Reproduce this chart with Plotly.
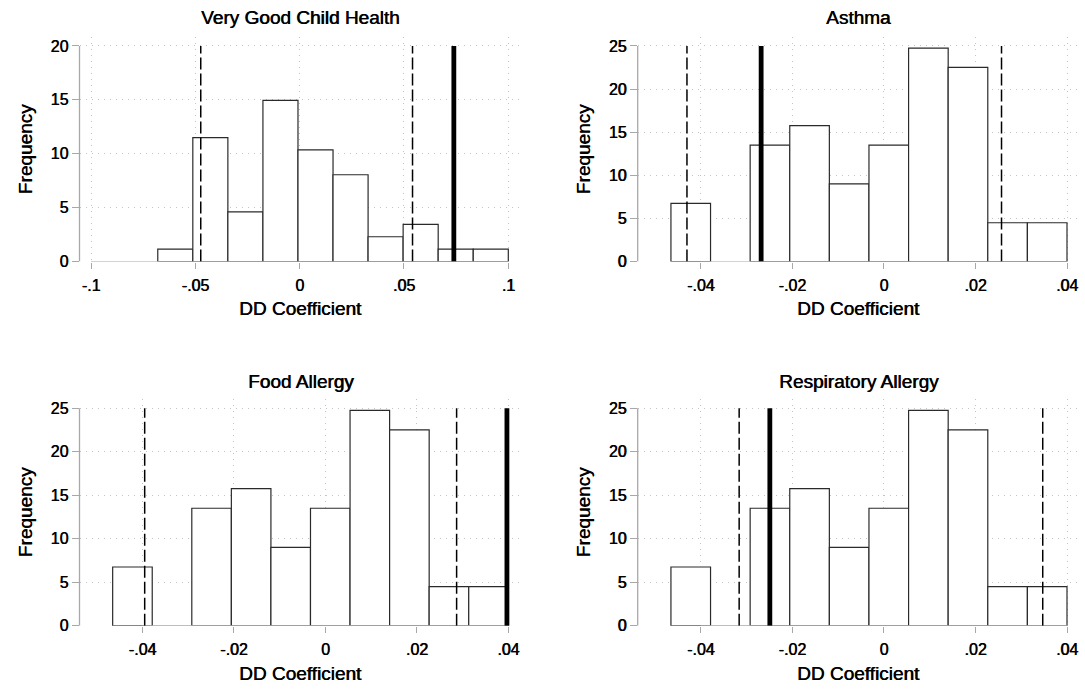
import plotly.graph_objects as go

W, H = 1085, 693

# ---------------- data ----------------
titles = ["Very Good Child Health", "Asthma", "Food Allergy", "Respiratory Allergy"]

# Panel 1 histogram (bin start, bin width, heights)
vg_bin_start = -0.068
vg_bin_width = 0.0168
vg_heights = [1.15, 11.5, 4.6, 14.95, 10.35, 8.05, 2.3, 3.45, 1.15, 1.15]

# Panels 2-4 share the same placebo distribution
al_bin_start = -0.0465
al_bin_width = 0.00865
al_heights = [6.75, 0, 13.5, 15.75, 9.0, 13.5, 24.75, 22.5, 4.5, 4.5]

# Critical values (dashed) and actual estimate (thick)
dashed_lines = [[-0.0474, 0.0541], [-0.0430, 0.0257], [-0.0395, 0.0287], [-0.0316, 0.0347]]
actual_line = [0.0739, -0.0268, 0.0397, -0.0249]

x_ticks_vg = [-0.1, -0.05, 0, 0.05, 0.1]
x_ticktext_vg = ["-.1", "-.05", "0", ".05", ".1"]
x_ticks_al = [-0.04, -0.02, 0, 0.02, 0.04]
x_ticktext_al = ["-.04", "-.02", "0", ".02", ".04"]
y_ticks_20 = [0, 5, 10, 15, 20]
y_ticks_25 = [0, 5, 10, 15, 20, 25]

# ---------------- layout geometry (pixels) ----------------
panels = [
    dict(bs=vg_bin_start, bw=vg_bin_width, h=vg_heights, xt=x_ticks_vg, xtt=x_ticktext_vg, yt=y_ticks_20,
         left=79.5, right=521.7, t0px=91.0, t1px=508.3, y0px=265.0, ytoppx=46.5, regtop=37.5,
         title_y=18, ytitle_x=25),
    dict(bs=al_bin_start, bw=al_bin_width, h=al_heights, xt=x_ticks_al, xtt=x_ticktext_al, yt=y_ticks_25,
         left=637.7, right=1080.0, t0px=700.7, t1px=1067.0, y0px=265.0, ytoppx=46.5, regtop=37.5,
         title_y=18, ytitle_x=583),
    dict(bs=al_bin_start, bw=al_bin_width, h=al_heights, xt=x_ticks_al, xtt=x_ticktext_al, yt=y_ticks_25,
         left=79.5, right=521.7, t0px=142.4, t1px=508.3, y0px=634.0, ytoppx=413.5, regtop=404.0,
         title_y=387, ytitle_x=25),
    dict(bs=al_bin_start, bw=al_bin_width, h=al_heights, xt=x_ticks_al, xtt=x_ticktext_al, yt=y_ticks_25,
         left=637.7, right=1080.0, t0px=700.7, t1px=1067.0, y0px=634.0, ytoppx=413.5, regtop=404.0,
         title_y=387, ytitle_x=583),
]

FONT = "Liberation Sans, Arial, Helvetica, sans-serif"
SHADOW = "0.6px 0px 0px black"
AXIS_GRAY = "#a8a8a8"
GRID_GRAY = "#c4c4c4"

fig = go.Figure()
layout = dict(
    width=W, height=H, margin=dict(l=0, r=0, t=0, b=0),
    paper_bgcolor="white", plot_bgcolor="white", showlegend=False,
    font=dict(family=FONT, color="black", size=16),
)
shapes = []
annotations = []

for i, p in enumerate(panels):
    n = "" if i == 0 else str(i + 1)
    xa, ya = "x" + n, "y" + n
    # axis ranges from pixel geometry
    t0, t1 = p["xt"][0], p["xt"][-1]
    ppu = (p["t1px"] - p["t0px"]) / (t1 - t0)
    xl = t0 - (p["t0px"] - p["left"]) / ppu
    xr = t1 + (p["right"] - p["t1px"]) / ppu
    ymax = p["yt"][-1]
    ypu = (p["y0px"] - p["ytoppx"]) / ymax
    ytop = ymax + (p["ytoppx"] - p["regtop"]) / ypu

    centers, heights = [], []
    for k, hgt in enumerate(p["h"]):
        if hgt > 0:
            centers.append(p["bs"] + (k + 0.5) * p["bw"])
            heights.append(hgt)
    fig.add_trace(go.Bar(
        x=centers, y=heights, width=p["bw"], xaxis=xa, yaxis=ya,
        marker=dict(color="white", line=dict(color="#2a2a2a", width=1.2)),
        hoverinfo="skip",
    ))

    tickfont = dict(size=16, family=FONT, color="black", shadow=SHADOW)
    layout["xaxis" + n] = dict(
        domain=[p["left"] / W, p["right"] / W], anchor=ya, range=[xl, xr],
        tickmode="array", tickvals=p["xt"], ticktext=p["xtt"],
        ticks="outside", ticklen=6, tickwidth=1, tickcolor=AXIS_GRAY,
        showgrid=True, gridcolor=GRID_GRAY, gridwidth=1, griddash="1px,5px",
        zeroline=False, showline=False, tickfont=tickfont,
        ticklabelstandoff=3, ticklabeloverflow="allow", fixedrange=True,
    )
    layout["yaxis" + n] = dict(
        domain=[1 - p["y0px"] / H, 1 - p["regtop"] / H], anchor=xa, range=[0, ytop],
        tickmode="array", tickvals=p["yt"],
        ticks="outside", ticklen=7, tickwidth=1, tickcolor=AXIS_GRAY,
        showgrid=True, gridcolor=GRID_GRAY, gridwidth=1, griddash="1px,5px",
        zeroline=False, showline=False, tickfont=tickfont,
        ticklabeloverflow="allow", fixedrange=True,
    )
    # axis lines, Stata-style (spanning the labelled range only)
    shapes.append(dict(type="line", xref=xa + " domain", yref=ya, x0=0, x1=0, y0=0, y1=ymax,
                       line=dict(color=AXIS_GRAY, width=1.3), layer="above"))
    shapes.append(dict(type="line", xref=xa, yref=ya, x0=t0, x1=t1, y0=0, y1=0,
                       line=dict(color=AXIS_GRAY, width=1.3), layer="above"))
    # critical values
    for v in dashed_lines[i]:
        shapes.append(dict(type="line", xref=xa, yref=ya, x0=v, x1=v, y0=0, y1=ymax,
                           line=dict(color="black", width=1.5, dash="12px,4px"), layer="above"))
    # actual estimate
    shapes.append(dict(type="line", xref=xa, yref=ya, x0=actual_line[i], x1=actual_line[i], y0=0, y1=ymax,
                       line=dict(color="black", width=4.8), layer="above"))

    cx = (p["left"] + p["right"]) / 2 / W
    tfont = dict(size=19, family=FONT, color="black", shadow=SHADOW)
    annotations.append(dict(text=titles[i], xref="paper", yref="paper", x=cx, y=1 - p["title_y"] / H,
                            showarrow=False, xanchor="center", yanchor="middle", font=tfont))
    annotations.append(dict(text="DD Coefficient", xref="paper", yref="paper", x=cx,
                            y=1 - (p["y0px"] + 48) / H, showarrow=False, xanchor="center", yanchor="middle",
                            font=tfont))
    annotations.append(dict(text="Frequency", xref="paper", yref="paper", x=p["ytitle_x"] / W,
                            y=1 - ((p["regtop"] + p["y0px"]) / 2) / H, textangle=-90,
                            showarrow=False, xanchor="center", yanchor="middle", font=tfont))

layout["shapes"] = shapes
layout["annotations"] = annotations
layout["bargap"] = 0
fig.update_layout(**layout)
fig.write_html("out.html", config={"displayModeBar": False, "staticPlot": True},
               post_script="document.body.style.margin='0px';")
